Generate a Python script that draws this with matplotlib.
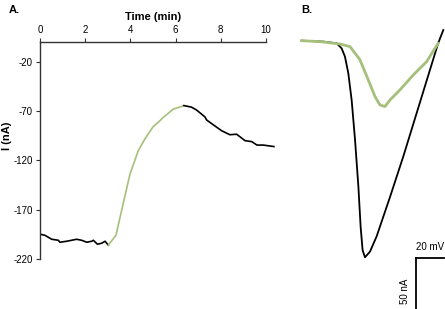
import matplotlib
matplotlib.use("Agg")
import matplotlib.pyplot as plt

plt.rcParams["axes.unicode_minus"] = False
plt.rcParams["font.family"] = ["Liberation Sans", "DejaVu Sans"]

# Panel A: current vs time
base_t = [0.03, 0.22, 0.52, 0.81, 0.88, 1.18, 1.62, 1.84, 2.07, 2.29, 2.36, 2.54, 2.73, 2.88, 3.02]
base_i = [-195, -196, -200, -201, -203, -202, -200, -201, -203, -202, -201, -205, -204, -202, -206]
rise_t = [3.02, 3.36, 3.54, 3.98, 4.35, 4.65, 5.0, 5.3, 5.4, 5.9, 6.37]
rise_i = [-206, -196, -178, -134, -110, -98, -86, -80, -77.5, -68, -64.5]
decay_t = [6.37, 6.7, 6.93, 7.3, 7.37, 7.67, 8.04, 8.4, 8.7, 9.07, 9.37, 9.6, 9.88, 10.35]
decay_i = [-64.5, -66, -69, -76, -79, -84, -90, -94, -93.5, -100, -101, -104.5, -104.5, -106]

# Panel B: I-V traces (mV, nA)
ctrl_v = [-79.5, -64, -54.5, -51, -48.6, -46.2, -43.8, -41.4, -39, -37.4, -36, -34.3,
          -30.7, -26, -16.4, -6.9, 2.6, 12.1, 18, 21.7]
ctrl_i = [0.3, -0.6, -2.2, -7, -15, -31, -57, -95, -140, -178.5, -201, -208,
          -202.5, -188, -150, -111, -69.5, -28, -2.2, 10.6]
drug_v = [-79.5, -66.4, -52.1, -45, -37.9, -31.9, -27.1, -23.6, -20, -16.4, -9.3, 0.2, 9.8, 18]
drug_i = [0.3, -0.6, -2.9, -5.4, -18, -37.5, -53.5, -61.5, -63, -56.7, -47, -32.7, -19.8, -2.2]

green = "#a5c07a"
W, H = 445, 309

fig = plt.figure(figsize=(4.45, 3.09), dpi=100)

ax = fig.add_axes([40 / W, 1 - 259 / H, 226 / W, 217 / H])
ax.plot(base_t, base_i, color="black", lw=1.2)
ax.plot(rise_t, rise_i, color=green, lw=1.2)
ax.plot(decay_t, decay_i, color="black", lw=1.2, clip_on=False)
ax.set_xlim(0, 10)
ax.set_ylim(-220, 0)
ax.set_xticks([0, 2, 4, 6, 8, 10])
ax.set_yticks([-220, -170, -120, -70, -20])
ax.xaxis.tick_top()
ax.spines["right"].set_visible(False)
ax.spines["bottom"].set_visible(False)
for s in ("top", "left"):
    ax.spines[s].set_color("#333333")
    ax.spines[s].set_linewidth(1.0)
ax.tick_params(direction="out", length=3, width=0.8, colors="#333333", labelsize=7, pad=2,
               labelcolor="black")
ax.set_xlabel("Time (min)", fontsize=8, fontweight="bold", labelpad=4)
ax.xaxis.set_label_position("top")
fig.text(7.5 / W, 1 - 136 / H, "I (nA)", rotation=90, fontsize=8, fontweight="bold",
         ha="center", va="center")
fig.text(9 / W, 1 - 10 / H, "A.", fontsize=8, fontweight="bold", ha="left", va="center")
fig.text(301 / W, 1 - 10 / H, "B.", fontsize=8, fontweight="bold", ha="left", va="center")

# Panel B axes, scaled so 20 mV ~ 28 px and 50 nA ~ 52 px
bx = fig.add_axes([295 / W, 0, 150 / W, 289 / H])
bx.plot(ctrl_v, ctrl_i, color="black", lw=1.3, clip_on=False)
bx.plot(drug_v, drug_i, color=green, lw=2.0, clip_on=False)
bx.set_xlim(-84.3, 22.9)
bx.set_ylim(-257.7, 20.2)
bx.axis("off")

# scale bar
bar_v, bar_i = 2.1, -209
bx.plot([bar_v, bar_v + 20], [bar_i, bar_i], color="black", lw=1.3, clip_on=False)
bx.plot([bar_v, bar_v], [bar_i, bar_i - 50], color="black", lw=1.3, clip_on=False)
bx.text(bar_v + 10, bar_i + 6, "20 mV", fontsize=7, ha="center", va="bottom")
bx.text(bar_v - 8, bar_i - 32, "50 nA", fontsize=7, ha="center", va="center", rotation=90)

fig.savefig("out.png", dpi=100)
